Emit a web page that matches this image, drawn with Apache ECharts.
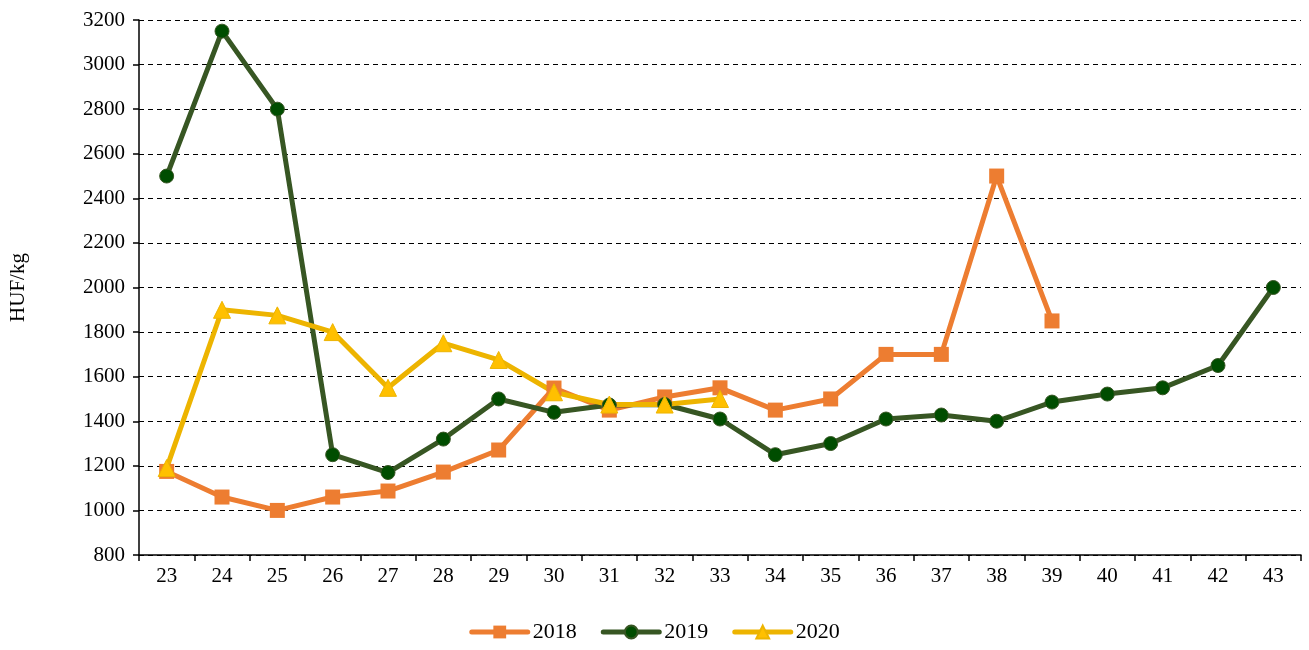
<!DOCTYPE html>
<html><head><meta charset="utf-8">
<script src="https://cdn.jsdelivr.net/npm/echarts@6/dist/echarts.min.js"></script>
<style>html,body{margin:0;padding:0;background:#fff}#c{width:1309px;height:650px}</style>
</head><body><div id="c"></div>
<script>
const weeks = ['23','24','25','26','27','28','29','30','31','32','33','34','35','36','37','38','39','40','41','42','43'];
const s2018 = [1175,1060,1000,1060,1087,1172,1271,1549,1450,1509,1550,1450,1500,1700,1700,2500,1850,null,null,null,null];
const s2019 = [2500,3150,2800,1250,1170,1320,1500,1440,1473,1475,1410,1250,1300,1410,1428,1400,1486,1522,1550,1650,2000];
const s2020 = [1190,1900,1875,1800,1550,1750,1675,1530,1475,1475,1500,null,null,null,null,null,null,null,null,null,null];
const yTicks = {min:800, max:3200, interval:200};
const font = 'Liberation Serif, Times New Roman, serif';
const chart = echarts.init(document.getElementById('c'));
chart.setOption({
  animation:false,
  textStyle:{fontFamily:font},
  grid:{left:137,right:8,top:20,bottom:95},
  legend:{bottom:2,left:'center',itemWidth:56,itemHeight:16,itemGap:24,
    lineStyle:{width:5,cap:'round'},
    textStyle:{fontFamily:font,fontSize:22,color:'#000'},
    data:['2018','2019','2020']},
  xAxis:{type:'category',data:weeks,boundaryGap:true,
    axisLine:{lineStyle:{color:'#000',width:1.5}},
    axisTick:{show:true,length:6,lineStyle:{color:'#000',width:1.5}},
    axisLabel:{color:'#000',fontSize:21,fontFamily:font,margin:11}},
  yAxis:{type:'value',min:yTicks.min,max:yTicks.max,interval:yTicks.interval,
    name:'HUF/kg',nameLocation:'middle',nameGap:110,
    nameTextStyle:{color:'#000',fontSize:21,fontFamily:font},
    axisLine:{show:true,lineStyle:{color:'#000',width:1.5}},
    axisTick:{show:true,length:6,lineStyle:{color:'#000',width:1.5}},
    axisLabel:{color:'#000',fontSize:21,fontFamily:font,margin:14,formatter:v=>String(v)},
    splitLine:{lineStyle:{color:'#000',type:[5,4],width:1}}},
  series:[
    {name:'2018',type:'line',data:s2018,connectNulls:false,symbol:'rect',symbolSize:15,
      lineStyle:{color:'#ED7D31',width:5},itemStyle:{color:'#ED7D31'}},
    {name:'2019',type:'line',data:s2019,symbol:'circle',symbolSize:14,
      lineStyle:{color:'#375623',width:5},itemStyle:{color:'#004d00',borderColor:'#375623',borderWidth:1}},
    {name:'2020',type:'line',data:s2020,symbol:'triangle',symbolSize:17,
      lineStyle:{color:'#EDB400',width:5},itemStyle:{color:'#FFC000',borderColor:'#EDB400',borderWidth:1}}
  ]
});
</script></body></html>
